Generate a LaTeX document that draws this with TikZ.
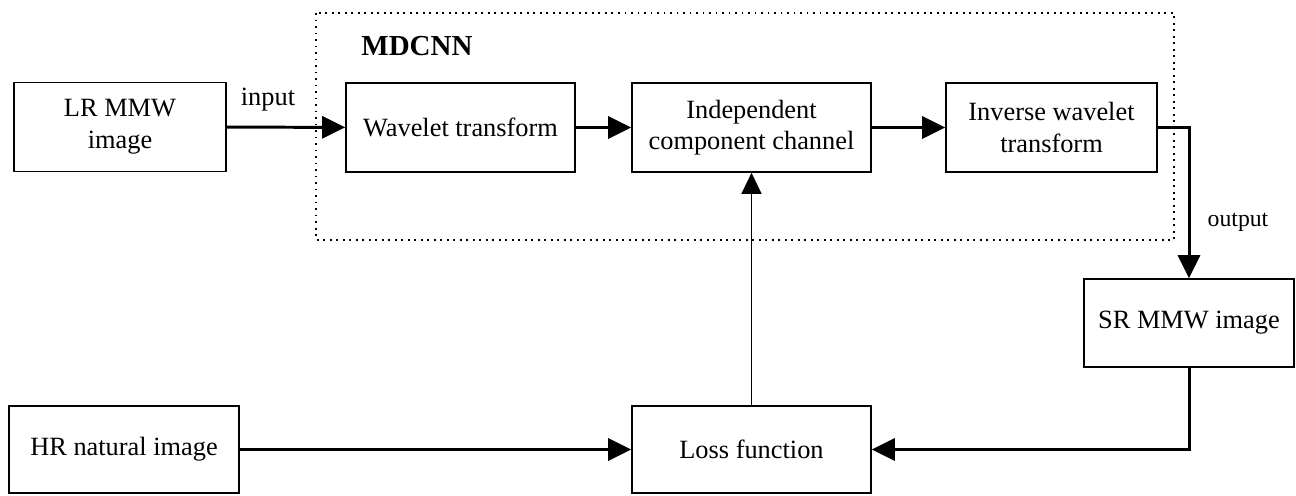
\documentclass[tikz,border=0pt]{standalone}
\usepackage{fontspec}
\setmainfont{Liberation Serif}
\usetikzlibrary{arrows.meta}

\begin{document}
\begin{tikzpicture}[box/.style={draw,line width=0.9pt,align=center,minimum height=1.78cm,inner sep=2pt},
                    flow/.style={line width=1.7pt,-{Triangle[length=0.46cm,width=0.44cm]}},
                    font=\fontsize{15}{18}\selectfont]
                  \useasboundingbox (0,0) rectangle (25.92,-9.9);
                  % network part
                  \draw[line width=1.1pt,dash pattern=on 1.1pt off 2.6pt] (6.32,-0.26) rectangle (23.48,-4.8);
                  \node[font=\fontsize{16.5}{18}\selectfont\bfseries] (mdcnn) at (8.34,-0.92) {MDCNN};
                  \node[box,minimum width=4.24cm] (lr) at (2.40,-2.54) {LR MMW\\image};
                  \node[box,minimum width=4.58cm] (wt) at (9.21,-2.55) {Wavelet transform};
                  \node[box,minimum width=4.78cm] (icc) at (15.03,-2.55) {Independent\\component channel};
                  \node[box,minimum width=4.22cm] (iwt) at (21.03,-2.55) {Inverse wavelet\\transform};
                  \node[box,minimum width=4.20cm,minimum height=1.76cm] (sr) at (23.78,-6.46) {SR MMW image};
                  \node[box,minimum width=4.60cm,minimum height=1.74cm] (hr) at (2.48,-8.99) {HR natural image};
                  \node[box,minimum width=4.78cm,minimum height=1.74cm] (loss) at (15.03,-8.99) {Loss function};
                  \node (in) at (5.36,-2.0) {input};
                  \node[font=\fontsize{13.5}{16}\selectfont] (out) at (24.76,-4.44) {output};
                  % connectors
                  \draw[flow] (lr) -- (wt);
                  \draw[flow] (wt) -- (icc);
                  \draw[flow] (icc) -- (iwt);
                  \draw[flow] (iwt.east) -| (sr.north);
                  \draw[flow] (sr.south) |- (loss.east);
                  \draw[flow] (hr) -- (loss);
                  \draw[line width=0.7pt,-{Triangle[length=0.42cm,width=0.4cm]}] (loss) -- (icc);
              \end{tikzpicture}
\end{document}
